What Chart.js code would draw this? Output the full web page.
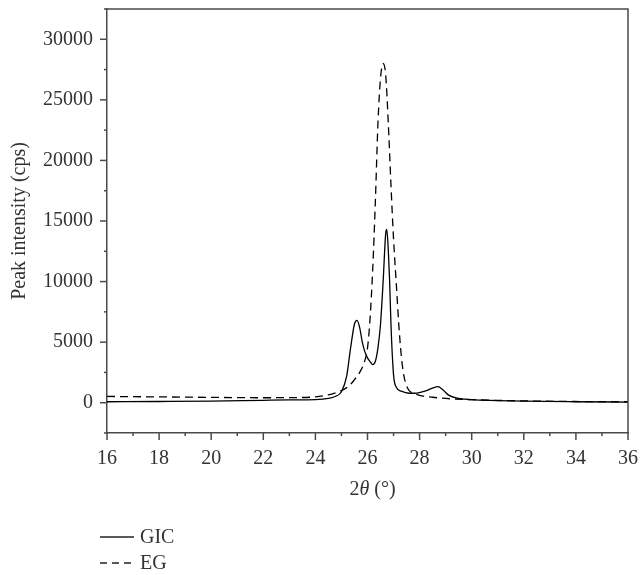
<!DOCTYPE html>
<html>
<head>
<meta charset="utf-8">
<script src="https://cdn.jsdelivr.net/npm/chart.js@4/dist/chart.umd.min.js"></script>
<style>
  html, body { margin: 0; padding: 0; background: #fff; }
  #wrap { width: 641px; height: 575px; position: relative; }
</style>
</head>
<body>
<div id="wrap"><canvas id="xrd"></canvas></div>
<script>
// 2theta positions and intensities
const gicAngle = [16, 18, 20, 22, 23, 24, 24.5, 24.8, 25.0, 25.2, 25.35, 25.5, 25.6, 25.7, 25.8, 25.9, 26.0, 26.1, 26.2, 26.3, 26.4, 26.5, 26.6, 26.7, 26.74, 26.8, 26.85, 26.9, 27.0, 27.1, 27.3, 27.6, 27.9, 28.2, 28.5, 28.7, 28.9, 29.1, 29.4, 30, 31, 32, 34, 36];
const gicCounts = [80, 100, 130, 200, 230, 250, 350, 550, 900, 2200, 4500, 6500, 6800, 6200, 5000, 4200, 3700, 3400, 3150, 3400, 4500, 6500, 10000, 14000, 14300, 12500, 10000, 6500, 2300, 1300, 950, 780, 800, 950, 1200, 1320, 1050, 650, 400, 250, 180, 130, 80, 50];

const egAngle = [16, 17, 18, 19, 20, 21, 22, 23, 24, 24.5, 25, 25.3, 25.5, 25.7, 25.9, 26.0, 26.1, 26.2, 26.3, 26.4, 26.5, 26.6, 26.7, 26.8, 26.9, 27.0, 27.1, 27.2, 27.3, 27.4, 27.5, 27.6, 27.8, 28, 28.5, 29, 30, 32, 34, 36];
const egCounts = [520, 500, 480, 460, 440, 420, 410, 420, 480, 650, 1000, 1400, 1900, 2500, 3500, 4500, 7000, 11000, 16500, 23000, 26800, 28000, 27000, 23000, 18000, 13500, 10000, 6500, 3800, 2200, 1400, 1000, 750, 600, 450, 350, 250, 150, 100, 80];

const seriesNames = ['GIC', 'EG'];
const xTicks = [16, 18, 20, 22, 24, 26, 28, 30, 32, 34, 36];
const yTicks = [0, 5000, 10000, 15000, 20000, 25000, 30000];

const serif = '"Liberation Serif", "DejaVu Serif", serif';
const axisColor = '#4a4a4a';
const textColor = '#333';

function toPoints(xs, ys) {
  return xs.map((x, i) => ({ x: x, y: ys[i] }));
}

// outward tick marks (long on labelled values, short in between), frame, x title and legend
const decorations = {
  id: 'decorations',
  afterDraw(chart) {
    const c = chart.ctx;
    const a = chart.chartArea;
    const xs = chart.scales.x, ys = chart.scales.y;
    c.save();
    c.strokeStyle = axisColor;
    c.lineWidth = 1.5;
    // frame top + right
    c.beginPath();
    c.moveTo(a.left, a.top);
    c.lineTo(a.right, a.top);
    c.lineTo(a.right, a.bottom);
    c.stroke();
    // x ticks
    for (let v = 16; v <= 36; v += 1) {
      const px = xs.getPixelForValue(v);
      const len = xTicks.includes(v) ? 7 : 3;
      c.beginPath();
      c.moveTo(px, a.bottom);
      c.lineTo(px, a.bottom + len);
      c.stroke();
    }
    // y ticks
    for (let v = -2500; v <= 32500; v += 2500) {
      const py = ys.getPixelForValue(v);
      const len = yTicks.includes(v) ? 7 : 3;
      c.beginPath();
      c.moveTo(a.left, py);
      c.lineTo(a.left - len, py);
      c.stroke();
    }

    // x title: 2θ (°) with italic theta
    c.fillStyle = textColor;
    c.textBaseline = 'middle';
    c.textAlign = 'left';
    const parts = [['2', ''], ['θ', 'italic '], [' (°)', '']];
    let total = 0;
    parts.forEach(p => { c.font = p[1] + '20px ' + serif; total += c.measureText(p[0]).width; });
    let tx = (a.left + a.right) / 2 + 5 - total / 2;
    parts.forEach(p => {
      c.font = p[1] + '20px ' + serif;
      c.fillText(p[0], tx, 490);
      tx += c.measureText(p[0]).width;
    });

    // legend
    const ly = [537, 563];
    c.font = '20px ' + serif;
    chart.data.datasets.forEach((ds, i) => {
      c.strokeStyle = '#222';
      c.lineWidth = 1.4;
      c.setLineDash(ds.borderDash ? [7, 5] : []);
      c.beginPath();
      c.moveTo(100, ly[i]);
      c.lineTo(134, ly[i]);
      c.stroke();
      c.setLineDash([]);
      c.fillText(ds.label, 140, ly[i] + 1);
    });
    c.restore();
  }
};

new Chart(document.getElementById('xrd'), {
  type: 'scatter',
  data: {
    datasets: [
      {
        label: seriesNames[0],
        data: toPoints(gicAngle, gicCounts),
        showLine: true,
        borderColor: '#000',
        borderWidth: 1.3,
        pointRadius: 0,
        cubicInterpolationMode: 'monotone'
      },
      {
        label: seriesNames[1],
        data: toPoints(egAngle, egCounts),
        showLine: true,
        borderColor: '#000',
        borderWidth: 1.3,
        borderDash: [8, 5],
        pointRadius: 0,
        cubicInterpolationMode: 'monotone'
      }
    ]
  },
  options: {
    responsive: true,
    maintainAspectRatio: false,
    animation: false,
    layout: { padding: { top: 9, right: 13, bottom: 0, left: 0 } },
    plugins: {
      legend: { display: false },
      tooltip: { enabled: false }
    },
    scales: {
      x: {
        type: 'linear',
        min: 16,
        max: 36,
        afterFit(s) {
          s.height = 142;
          s.paddingLeft = 0;
          s.paddingRight = 0;
        },
        afterBuildTicks(s) { s.ticks = xTicks.map(v => ({ value: v })); },
        grid: { display: true, drawOnChartArea: false, drawTicks: false },
        border: { color: axisColor, width: 1.5 },
        ticks: {
          padding: 14,
          color: textColor,
          font: { family: serif, size: 20 },
          callback: v => String(v)
        }
      },
      y: {
        min: -2500,
        max: 32500,
        afterFit(s) {
          s.width = 107;
          s.paddingTop = 0;
          s.paddingBottom = 0;
        },
        afterBuildTicks(s) { s.ticks = yTicks.map(v => ({ value: v })); },
        grid: { display: true, drawOnChartArea: false, drawTicks: false },
        border: { color: axisColor, width: 1.5 },
        ticks: {
          padding: 14,
          color: textColor,
          font: { family: serif, size: 20 },
          callback: v => String(v)
        },
        title: {
          display: true,
          text: 'Peak intensity (cps)',
          color: textColor,
          padding: { top: 8, bottom: 0 },
          font: { family: serif, size: 20 }
        }
      }
    }
  },
  plugins: [decorations]
});
</script>
</body>
</html>
